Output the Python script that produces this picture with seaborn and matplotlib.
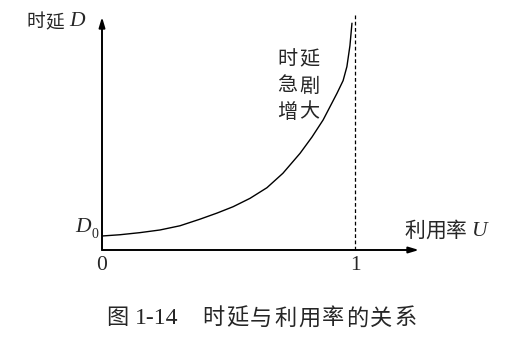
import matplotlib
matplotlib.use("Agg")
import matplotlib.pyplot as plt
import seaborn as sns
import pandas as pd

# curve: utilisation U and delay D (in units of D0)
util = [0.0, 0.071, 0.150, 0.229, 0.308, 0.387, 0.455, 0.518, 0.585, 0.652,
        0.715, 0.783, 0.830, 0.874, 0.929, 0.953, 0.968, 0.980, 0.988]
delay = [1.0, 1.09, 1.24, 1.43, 1.73, 2.20, 2.64, 3.09, 3.69, 4.45,
         5.48, 6.91, 8.07, 9.29, 11.2, 12.1, 13.1, 14.6, 16.2]
df = pd.DataFrame({"U": util, "D": delay})

x_ticks = ["0", "1"]
caption_fig = "图"
caption_num = "1-14"
caption_txt = "时延与利用率的关系"

sns.set_style("white")
plt.rcParams["font.family"] = ["Liberation Serif", "Noto Sans CJK SC"]

W, H = 528, 354
fig = plt.figure(figsize=(W / 100, H / 100), dpi=100)
# axes box: origin at pixel (102, 250), U=1 at x=355, top of y arrow at y=17
x0, y0, x1, ytop = 102, 250, 355, 17
xend = 419
unit_x = x1 - x0
unit_y = 14.0
ax = fig.add_axes([x0 / W, (H - y0) / H, (xend - x0) / W, (y0 - ytop) / H])
xmax = (xend - x0) / unit_x
ymax = (y0 - ytop) / unit_y
ax.set_xlim(0, xmax)
ax.set_ylim(0, ymax)
for s in ax.spines.values():
    s.set_visible(False)
ax.set_xticks([])
ax.set_yticks([])
ax.patch.set_alpha(0)

sns.lineplot(data=df, x="U", y="D", ax=ax, color="black", linewidth=1.0, sort=False)
ax.set_xlabel("")
ax.set_ylabel("")

# dashed line at U = 1
ax.plot([1, 1], [0, (y0 - 15) / unit_y], color="black", linewidth=0.9,
        linestyle=(0, (3, 2)), clip_on=False)

# axes with arrows
arr = dict(arrowstyle="-|>,head_length=0.6,head_width=0.18", color="black", lw=1.4,
           shrinkA=0, shrinkB=0)
ax.annotate("", xy=(xmax, 0), xytext=(0, 0), arrowprops=arr, annotation_clip=False)
ax.annotate("", xy=(0, ymax), xytext=(0, 0), arrowprops=arr, annotation_clip=False)


def ftext(px, py, s, **kw):
    fig.text(px / W, 1 - py / H, s, **kw)


def spaced(px, py, s, step, **kw):
    # CJK text in the book is set with extra letter spacing
    for i, ch in enumerate(s):
        ftext(px + i * step, py, ch, ha="left", va="center", **kw)


cjk = ["Noto Sans CJK SC", "DejaVu Sans"]
ser = ["Liberation Serif", "Noto Sans CJK SC"]

spaced(26, 22, "时延", 19, family=cjk, fontsize=13.5)
ftext(69, 22, "D", family=ser, style="italic", fontsize=15.5, ha="left", va="center")

for k, line in enumerate(["时延", "急剧", "增大"]):
    spaced(277, 60 + k * 26, line, 22, family=cjk, fontsize=14.5)

ftext(91, 228, "D", family=ser, style="italic", fontsize=15.5, ha="right", va="center")
ftext(91, 234, "0", family=ser, fontsize=10, ha="left", va="center")

ftext(102, 266, x_ticks[0], family=ser, fontsize=15.5, ha="center", va="center")
ftext(355, 266, x_ticks[1], family=ser, fontsize=15.5, ha="center", va="center")

spaced(404, 231, "利用率", 21, family=cjk, fontsize=15)
ftext(471, 231, "U", family=ser, style="italic", fontsize=15.5, ha="left", va="center")

ftext(106, 318, caption_fig, family=cjk, fontsize=16, ha="left", va="center")
ftext(135, 318, caption_num, family=ser, fontsize=17, ha="left", va="center")
spaced(202, 318, caption_txt, 24, family=cjk, fontsize=16)

fig.savefig("out.png", dpi=100, facecolor="white")
